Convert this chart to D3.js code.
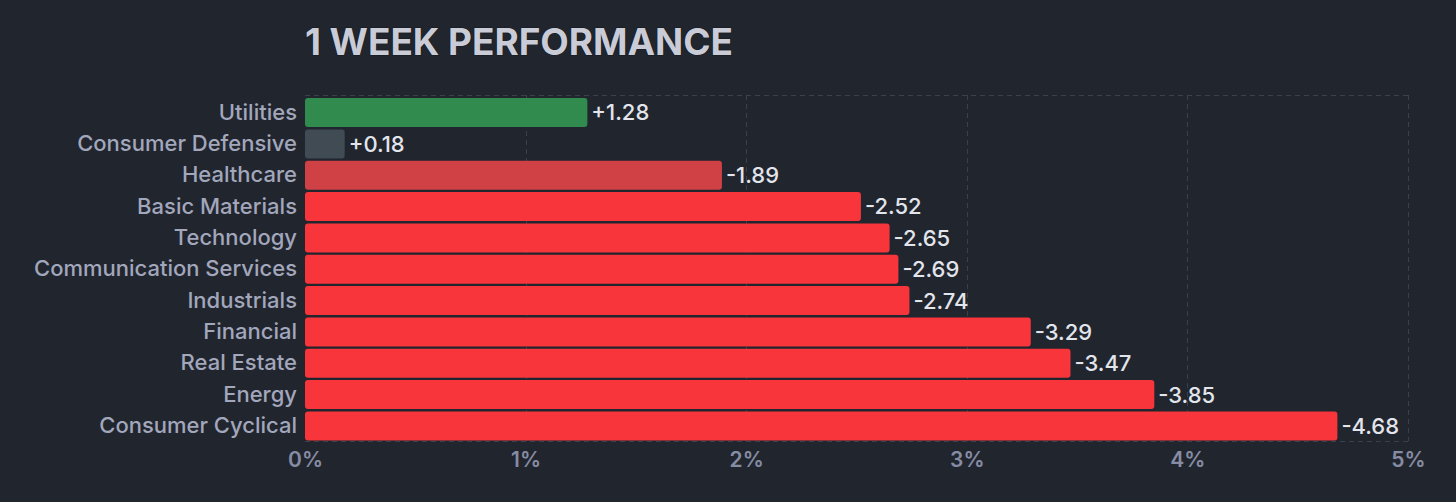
<!DOCTYPE html>
<html><head><meta charset="utf-8">
<script src="https://cdn.jsdelivr.net/npm/d3@7"></script>
<style>
html,body{margin:0;padding:0;background:#21252e;}
svg{display:block;font-family:Inter,"DejaVu Sans",sans-serif;}
</style></head><body>
<svg id="c" width="1456" height="502"></svg>
<script>
const categories = ["Utilities","Consumer Defensive","Healthcare","Basic Materials","Technology","Communication Services","Industrials","Financial","Real Estate","Energy","Consumer Cyclical"];
const values = [1.28,0.18,-1.89,-2.52,-2.65,-2.69,-2.74,-3.29,-3.47,-3.85,-4.68];
const barColors = ["#318b4e","#404b54","#d04146","#f8353b","#f8353b","#f8353b","#f8353b","#f8353b","#f8353b","#f8353b","#f8353b"];
const tickValues = [0,1,2,3,4,5];
const title = "1 WEEK PERFORMANCE";

(function(){
const svg = d3.select("#c");
const L = 305, R = 1408, T = 95, B = 441;
const x = d3.scaleLinear().domain([0,5]).range([L,R]);
const y = d3.scaleBand().domain(categories).range([T+1.5,B+1]).paddingInner(0.075).paddingOuter(0.05);

svg.append("rect").attr("width",1456).attr("height",502).attr("fill","#21252e");

// grid
const grid = svg.append("g").attr("stroke","#3b404d").attr("stroke-width",1).attr("stroke-dasharray","5,4");
tickValues.slice(1).forEach(t=>{
  grid.append("line").attr("x1",Math.round(x(t))+0.5).attr("x2",Math.round(x(t))+0.5).attr("y1",T).attr("y2",B);
});
grid.append("line").attr("x1",L).attr("x2",R).attr("y1",T+0.5).attr("y2",T+0.5);
grid.append("line").attr("x1",L).attr("x2",R).attr("y1",B+0.5).attr("y2",B+0.5);

// title
svg.append("text").attr("x",L).attr("y",55).attr("fill","#c9ccd7")
  .attr("font-size",37).attr("font-weight",700).attr("letter-spacing",-0.05)
  .style("paint-order","stroke").attr("stroke","#15181e").attr("stroke-width",1.2)
  .text(title);

// bars
svg.append("g").selectAll("rect").data(categories).join("rect")
  .attr("x",x(0)).attr("y",d=>y(d)).attr("height",y.bandwidth())
  .attr("width",(d,i)=>x(Math.abs(values[i]))-x(0))
  .attr("rx",3).attr("ry",3).attr("fill",(d,i)=>barColors[i]);

// value labels
svg.append("g").selectAll("text").data(categories).join("text")
  .attr("x",(d,i)=>x(Math.abs(values[i]))+4).attr("y",d=>y(d)+y.bandwidth()/2)
  .attr("dy","0.36em").attr("fill","#e3e5ec").attr("font-size",22).attr("font-weight",500)
  .text((d,i)=>(values[i]>0?"+":"")+values[i].toFixed(2));

// category axis
const yAxis = svg.append("g").attr("transform",`translate(${L-8},0)`)
  .call(d3.axisLeft(y).tickSize(0).tickPadding(0));
yAxis.select(".domain").remove();
yAxis.selectAll("text").attr("fill","#a2a7bc").attr("font-size",22).attr("font-family","Inter,sans-serif").attr("font-weight",500);

// x axis
const xAxis = svg.append("g").attr("transform",`translate(0,${B})`)
  .call(d3.axisBottom(x).tickValues(tickValues).tickFormat(d=>d+"%").tickSize(0).tickPadding(11));
xAxis.select(".domain").remove();
xAxis.selectAll("text").attr("fill","#868ca3").attr("font-size",21).attr("font-family","Inter,sans-serif").attr("font-weight",600);
})();
</script>
</body></html>
